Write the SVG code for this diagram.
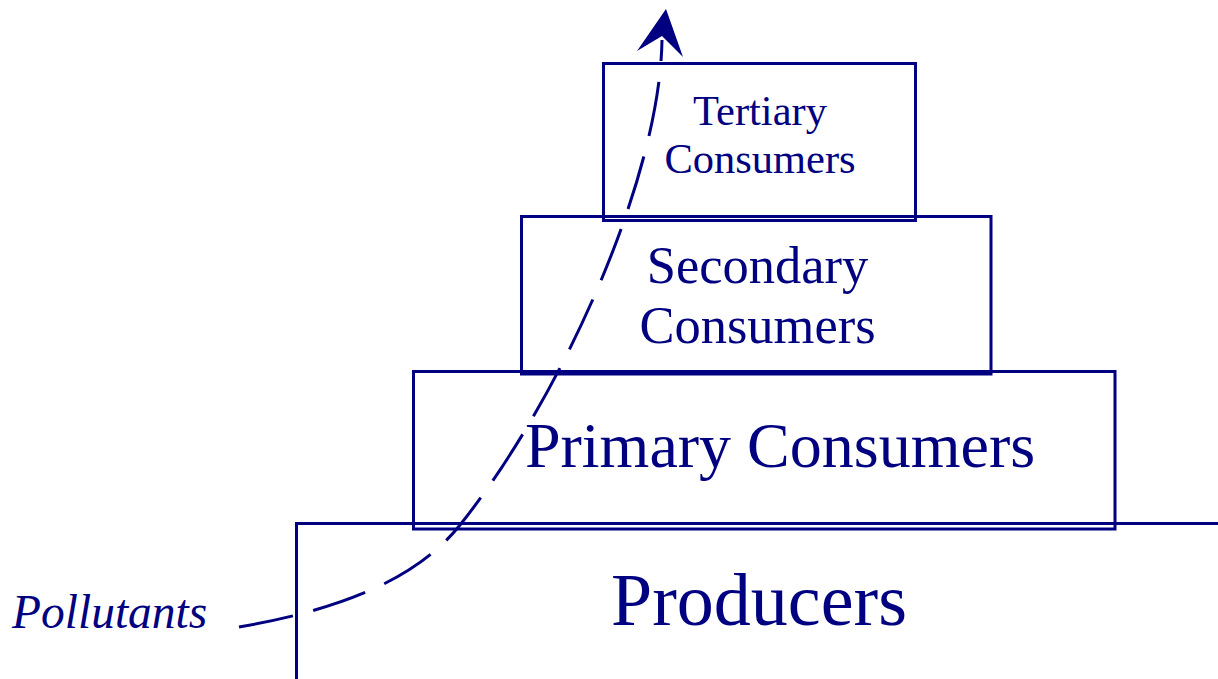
<svg xmlns="http://www.w3.org/2000/svg" width="1218" height="679" viewBox="0 0 1218 679">
  <style>
    .box { fill: none; stroke: #000080; stroke-width: 3; }
    .label { fill: #000080; font-family: "Liberation Serif", "Times New Roman", serif; text-anchor: middle; }
    .flow { fill: none; stroke: #000080; stroke-width: 3; stroke-dasharray: 55 21; }
    .head { fill: #000080; stroke: none; }
  </style>
  <rect width="1218" height="679" fill="#ffffff"/>

  <!-- base tier: open frame running off the right and bottom edges -->
  <g id="producers">
    <path class="box" d="M296.5 679 V523.5 H1218"/>
    <text class="label" x="759" y="625" font-size="74">Producers</text>
  </g>

  <g id="primary">
    <rect class="box" x="413.5" y="371.5" width="701.5" height="157.5"/>
    <text class="label" x="780" y="467" font-size="64">Primary Consumers</text>
  </g>

  <g id="secondary">
    <rect class="box" x="521.5" y="216.5" width="469.5" height="157.5"/>
    <text class="label" x="757.5" y="283" font-size="52.5">Secondary</text>
    <text class="label" x="757.5" y="343" font-size="52.5">Consumers</text>
  </g>

  <g id="tertiary">
    <rect class="box" x="603.5" y="63.5" width="312" height="157"/>
    <text class="label" x="760" y="125" font-size="42.5">Tertiary</text>
    <text class="label" x="760" y="173" font-size="42.5">Consumers</text>
  </g>

  <g id="pollutants">
    <text x="12" y="628" font-size="47.5" font-style="italic" fill="#000080" font-family="'Liberation Serif', 'Times New Roman', serif">Pollutants</text>
  </g>

  <!-- pollutant path climbing the pyramid -->
  <g id="connectors">
    <path class="flow" d="M239 627 C350 608 420 575 460 525 C560 400 660 180 662 40"/>
    <polygon class="head" points="666,9 683,57 662,36 637,51"/>
  </g>
</svg>
